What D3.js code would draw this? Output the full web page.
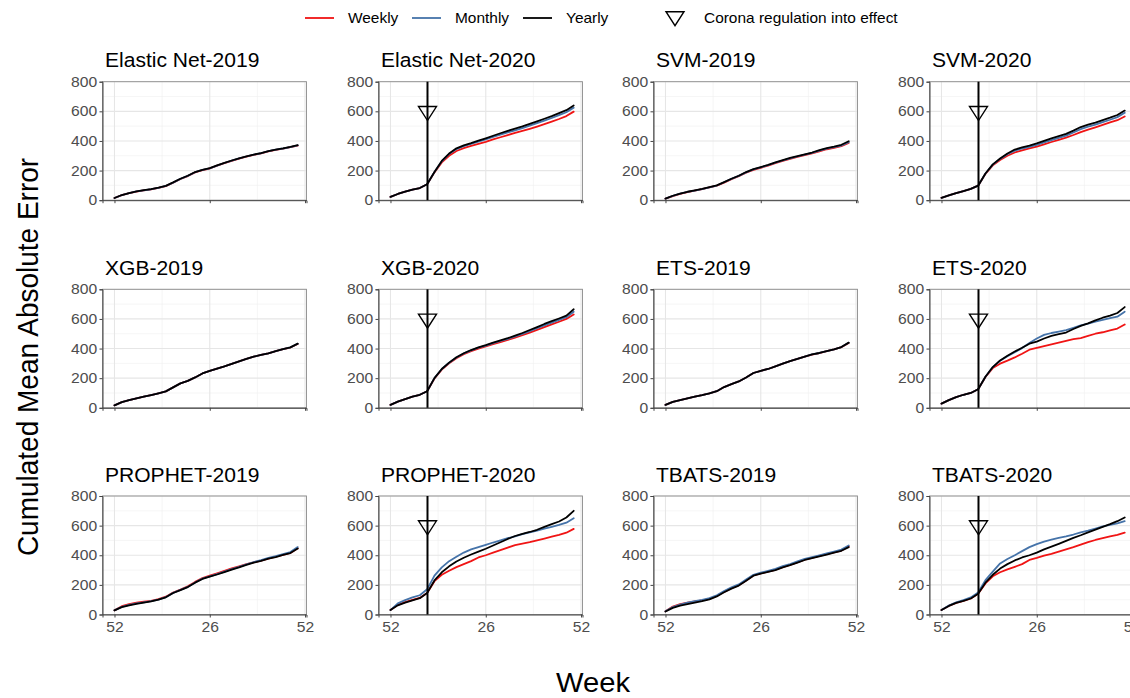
<!DOCTYPE html>
<html><head><meta charset="utf-8">
<script src="https://cdn.jsdelivr.net/npm/d3@7"></script>
<style>body{margin:0;background:#fff;overflow:hidden}text{font-family:"Liberation Sans",Arial,sans-serif}</style>
</head><body>
<svg id="chart" width="1130" height="698"></svg>
<script>
// ---------- data ----------
const weeks = [0,2,4,6,8,10,12,14,16,18,20,22,24,26,28,30,32,34,36,38,40,42,44,46,48,50];
const xTickWeeks = [0, 26, 52];
const xTickLabels = ["52", "26", "52"];
const yTicks = [0, 200, 400, 600, 800];
const coronaWeek = 10.1;
const coronaMarkerValue = 590;
const seriesNames = ["Weekly", "Monthly", "Yearly"];

const en2019Weekly  = [15,34,47,58,66,73,83,95,118,143,163,188,203,214,233,250,266,281,294,306,316,330,340,348,358,368];
const en2019Monthly = [15,34,47,59,67,74,84,96,119,144,164,189,204,215,234,251,267,282,295,307,317,331,341,349,359,370];
const en2019Yearly  = [15,35,48,60,68,75,85,97,120,145,165,190,205,216,235,252,268,283,296,308,318,332,342,350,360,372];

const en2020Weekly  = [22,42,58,72,82,108,188,255,300,332,352,367,380,394,410,425,440,454,468,482,497,513,530,548,568,598];
const en2020Monthly = [22,42,58,72,82,108,190,263,312,345,365,380,396,411,427,443,458,472,487,503,520,537,555,574,594,625];
const en2020Yearly  = [22,42,58,72,82,108,190,265,315,350,370,385,402,418,435,452,468,483,498,515,532,550,568,588,608,640];

const svm2019Weekly  = [11,28,43,55,64,74,86,98,119,142,162,186,205,219,233,250,265,279,292,304,316,330,344,354,365,386];
const svm2019Monthly = [11,29,44,56,65,75,87,99,121,144,164,188,208,222,236,253,268,282,295,307,319,334,348,358,369,392];
const svm2019Yearly  = [11,30,45,57,66,76,88,100,122,145,165,190,210,224,238,255,270,285,298,310,322,338,352,362,374,398];

const svm2020Weekly  = [16,32,48,62,76,98,178,235,272,300,322,337,350,362,377,393,408,422,440,460,476,492,508,525,540,565];
const svm2020Monthly = [16,32,48,62,76,98,180,240,279,310,335,349,360,374,390,406,421,436,457,480,496,510,527,543,561,590];
const svm2020Yearly  = [16,32,48,62,76,98,180,242,282,315,342,356,368,383,400,417,432,448,470,494,510,524,541,557,575,605];

const xgb2019Weekly  = [16,38,52,64,75,86,98,111,138,165,182,205,232,249,265,280,297,313,330,345,357,368,383,396,407,431];
const xgb2019Monthly = [16,38,52,64,75,86,98,111,138,165,182,205,232,249,265,280,297,313,330,345,357,368,383,396,408,432];
const xgb2019Yearly  = [16,38,52,64,75,86,98,111,138,165,182,205,232,249,265,280,297,313,330,345,357,368,383,396,408,433];

const xgb2020Weekly  = [20,42,58,75,88,112,198,258,300,335,362,383,400,414,430,444,458,474,490,508,526,545,563,581,600,630];
const xgb2020Monthly = [20,42,58,75,88,112,200,262,304,340,367,388,406,420,437,451,466,482,499,518,537,557,575,593,612,648];
const xgb2020Yearly  = [20,42,58,75,88,112,200,262,305,341,368,390,408,423,440,455,470,487,505,525,545,566,585,603,622,665];

const ets2019Weekly  = [20,40,52,64,75,85,97,112,140,160,178,205,235,250,262,280,298,315,330,345,359,369,382,394,409,438];
const ets2019Monthly = [20,40,52,64,75,85,97,112,140,160,178,205,235,250,262,280,298,315,330,345,360,370,383,395,410,439];
const ets2019Yearly  = [20,40,52,64,75,85,97,112,140,160,178,205,235,250,262,280,298,315,330,345,360,370,383,395,410,440];

const ets2020Weekly  = [28,52,72,88,100,125,208,268,298,318,340,365,392,405,417,428,440,452,464,471,485,500,510,522,535,562];
const ets2020Monthly = [28,52,72,88,100,125,210,275,318,348,375,403,438,468,492,505,515,525,540,556,568,582,593,605,615,648];
const ets2020Yearly  = [28,52,72,88,100,125,210,275,320,352,380,405,433,447,468,485,497,508,532,553,570,590,608,622,640,680];

const prophet2019Weekly  = [28,56,70,80,86,92,104,120,148,168,190,220,246,262,278,294,311,325,340,352,364,378,390,403,416,448];
const prophet2019Monthly = [28,52,65,75,82,90,101,117,146,166,186,216,242,258,273,289,306,321,338,354,367,382,394,408,422,455];
const prophet2019Yearly  = [28,50,62,72,80,88,100,116,145,165,185,215,240,256,270,286,303,318,335,350,362,377,388,402,415,445];

const prophet2020Weekly  = [30,65,84,98,112,145,225,268,295,320,340,360,385,400,418,435,452,468,478,488,500,512,525,537,552,578];
const prophet2020Monthly = [30,75,97,115,130,170,262,318,360,390,418,440,455,470,486,500,515,528,542,555,567,580,592,605,620,650];
const prophet2020Yearly  = [30,62,80,95,110,145,230,285,325,358,383,405,425,444,466,488,510,530,545,557,572,592,610,628,655,700];

const tbats2019Weekly  = [22,54,70,80,88,95,106,125,153,178,198,230,264,278,290,302,320,335,352,370,382,395,407,420,432,460];
const tbats2019Monthly = [22,50,67,80,90,98,110,130,158,183,203,236,268,282,295,308,326,341,358,375,387,400,412,425,438,466];
const tbats2019Yearly  = [20,45,60,70,80,90,102,122,150,175,195,228,262,276,288,300,318,333,350,368,380,393,405,418,430,455];

const tbats2020Weekly  = [30,58,78,92,108,140,210,258,285,305,322,340,368,382,398,410,425,440,455,472,488,503,516,528,538,553];
const tbats2020Monthly = [30,60,82,98,115,148,232,290,345,375,400,428,455,475,492,505,517,527,540,555,566,580,595,605,615,630];
const tbats2020Yearly  = [30,58,78,92,108,140,215,268,310,340,365,385,400,418,440,458,477,497,517,535,555,573,592,610,630,655];

const panelTitles = ["Elastic Net-2019","Elastic Net-2020","SVM-2019","SVM-2020",
                     "XGB-2019","XGB-2020","ETS-2019","ETS-2020",
                     "PROPHET-2019","PROPHET-2020","TBATS-2019","TBATS-2020"];
const panelSeries = [
  [en2019Weekly, en2019Monthly, en2019Yearly],
  [en2020Weekly, en2020Monthly, en2020Yearly],
  [svm2019Weekly, svm2019Monthly, svm2019Yearly],
  [svm2020Weekly, svm2020Monthly, svm2020Yearly],
  [xgb2019Weekly, xgb2019Monthly, xgb2019Yearly],
  [xgb2020Weekly, xgb2020Monthly, xgb2020Yearly],
  [ets2019Weekly, ets2019Monthly, ets2019Yearly],
  [ets2020Weekly, ets2020Monthly, ets2020Yearly],
  [prophet2019Weekly, prophet2019Monthly, prophet2019Yearly],
  [prophet2020Weekly, prophet2020Monthly, prophet2020Yearly],
  [tbats2019Weekly, tbats2019Monthly, tbats2019Yearly],
  [tbats2020Weekly, tbats2020Monthly, tbats2020Yearly]
];

// ---------- layout ----------
const colors = ["#f01414", "#4573a9", "#000000"];
const panelW = 204, panelH = 118.5;
const colX = [102.5, 378.5, 653.5, 929.5];
const rowY = [81.7, 289.3, 496];
const SX = 1.08; // horizontal text stretch

const svg = d3.select("#chart");
const x = d3.scaleLinear().domain([-3.27, 52.4]).range([0, panelW]);
const y = d3.scaleLinear().domain([0, 800]).range([panelH, 0]);
const line = d3.line().x((d, i) => x(weeks[i])).y(d => y(d)).curve(d3.curveLinear);

const triPath = (cx, cy) => {
  const w = 9, h = 14;
  return `M${cx - w},${cy - h * 0.45}L${cx + w},${cy - h * 0.45}L${cx},${cy + h * 0.55}Z`;
};
const stretchedText = (sel, tx, ty, str, size) =>
  sel.append("text").attr("transform", `translate(${tx},${ty}) scale(${SX},1)`)
    .style("font-size", size + "px").attr("fill", "#000").text(str);

panelTitles.forEach((title, p) => {
  const r = Math.floor(p / 4), c = p % 4;
  const g = svg.append("g").attr("transform", `translate(${colX[c]},${rowY[r]})`);

  // grid
  const yMinor = d3.range(100, 800, 200);
  const xMinor = [13, 39];
  g.selectAll(".gyminor").data(yMinor).join("line")
    .attr("x1", 0).attr("x2", panelW).attr("y1", d => y(d)).attr("y2", d => y(d))
    .attr("stroke", "#f0f0f0").attr("stroke-width", 0.6);
  g.selectAll(".gxminor").data(xMinor).join("line")
    .attr("y1", 0).attr("y2", panelH).attr("x1", d => x(d)).attr("x2", d => x(d))
    .attr("stroke", "#f0f0f0").attr("stroke-width", 0.6);
  g.selectAll(".gy").data(yTicks).join("line")
    .attr("x1", 0).attr("x2", panelW).attr("y1", d => y(d)).attr("y2", d => y(d))
    .attr("stroke", "#e6e6e6").attr("stroke-width", 1.1);
  g.selectAll(".gx").data(xTickWeeks).join("line")
    .attr("y1", 0).attr("y2", panelH).attr("x1", d => x(d)).attr("x2", d => x(d))
    .attr("stroke", "#e6e6e6").attr("stroke-width", 1.1);

  // border
  g.append("rect").attr("width", panelW).attr("height", panelH)
    .attr("fill", "none").attr("stroke", "#8c8c8c").attr("stroke-width", 0.9);

  // axes
  const ya = g.append("g").call(d3.axisLeft(y).tickValues(yTicks).tickSize(3).tickPadding(2));
  const xa = g.append("g").attr("transform", `translate(0,${panelH})`)
    .call(d3.axisBottom(x).tickValues(xTickWeeks).tickSize(3).tickPadding(4)
      .tickFormat((d, i) => r === 2 ? xTickLabels[i] : ""));
  [ya, xa].forEach(a => {
    a.select(".domain").attr("stroke", "#444").attr("stroke-width", 1);
    a.selectAll(".tick line").attr("stroke", "#444").attr("stroke-width", 1);
    a.selectAll(".tick text").attr("fill", "#4d4d4d").style("font-size", "14.5px")
      .style("font-family", '"Liberation Sans", Arial, sans-serif')
      .attr("transform", `scale(${SX},1)`);
  });

  // series
  panelSeries[p].forEach((vals, s) => {
    g.append("path").datum(vals).attr("d", line)
      .attr("fill", "none").attr("stroke", colors[s]).attr("stroke-width", 1.8)
      .attr("stroke-linejoin", "round").attr("stroke-linecap", "round");
  });

  // corona marker (2020 panels)
  if (title.endsWith("2020")) {
    g.append("line").attr("x1", x(coronaWeek)).attr("x2", x(coronaWeek))
      .attr("y1", 0).attr("y2", panelH).attr("stroke", "#000").attr("stroke-width", 2);
    g.append("path").attr("d", triPath(x(coronaWeek), y(coronaMarkerValue)))
      .attr("fill", "none").attr("stroke", "#000").attr("stroke-width", 1.4);
  }

  // title
  stretchedText(g, 2.5, -14.5, title, 19.5);
});

// axis titles
svg.append("text").attr("transform", "translate(38,357) rotate(-90) scale(1,1.08)")
  .attr("text-anchor", "middle").style("font-size", "28px").attr("fill", "#000")
  .text("Cumulated Mean Absolute Error");
svg.append("text").attr("transform", "translate(593,692) scale(1.08,1)").attr("text-anchor", "middle")
  .style("font-size", "27px").attr("fill", "#000").text("Week");

// legend
const legY = 18;
const legItems = [
  {x: 305, label: seriesNames[0], color: colors[0]},
  {x: 412, label: seriesNames[1], color: colors[1]},
  {x: 523, label: seriesNames[2], color: colors[2]}
];
const leg = svg.append("g");
legItems.forEach(d => {
  leg.append("line").attr("x1", d.x).attr("x2", d.x + 29).attr("y1", legY).attr("y2", legY)
    .attr("stroke", d.color).attr("stroke-width", 1.8);
  stretchedText(leg, d.x + 43, legY + 5, d.label, 14.3);
});
leg.append("path").attr("d", triPath(675, legY)).attr("fill", "none")
  .attr("stroke", "#000").attr("stroke-width", 1.4);
stretchedText(leg, 704, legY + 5, "Corona regulation into effect", 14.3);
</script>
</body></html>
